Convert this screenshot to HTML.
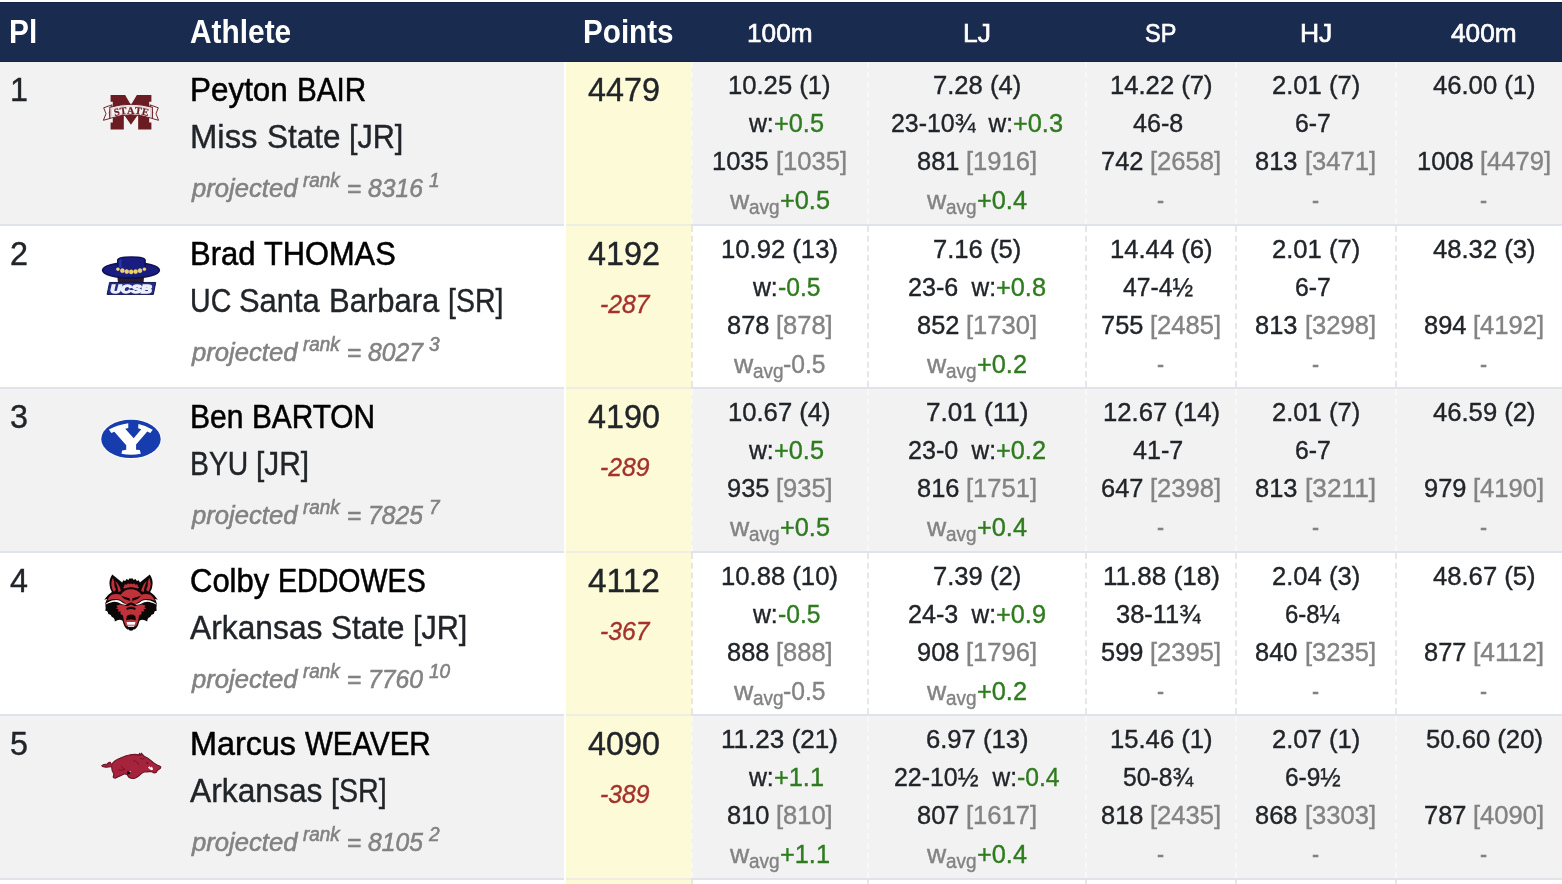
<!DOCTYPE html>
<html lang="en"><head><meta charset="utf-8"><title>Decathlon results</title>
<style>
html,body{margin:0;padding:0;background:#fff}
body{width:1562px;height:884px;overflow:hidden;position:relative;font-family:"Liberation Sans",sans-serif;color:#212529}
#hd{position:absolute;left:0;top:2px;width:1562px;height:59.5px;background:#1a2b50;box-shadow:inset 0 1px 0 #16243f,inset 0 -1px 0 #16243f}
.t{z-index:3;position:absolute;white-space:pre;margin:0;transform-origin:0 0;-webkit-text-stroke:0.4px currentColor}
.h{color:#fff}
.b{-webkit-text-stroke:0.9px #fff}
.hb{-webkit-text-stroke:0.65px #fff}
.bb{font-weight:bold;-webkit-text-stroke:0}
.nm{color:#000;-webkit-text-stroke:0.55px #000}
.i{font-style:italic}
.pj{color:#7f7f7f;-webkit-text-stroke:0.55px #7f7f7f}
.m{color:#838383}
.g{color:#2f7b1f}
.d{color:#a5312c}
.row{position:absolute;left:0;width:1562px;height:163.4px}
.row.odd{background:#f2f2f2}
.row.even{background:#fff}
.row .sep{position:absolute;left:0;right:0;bottom:0;height:2px;background:#e0e3e9}
.row .y{position:absolute;left:564px;width:127px;top:0;bottom:0;background:#fdfad7;border-left:2px solid #fff;box-sizing:border-box;z-index:1}
.row.even .y{border-left-color:#fff}
.row .ysep{z-index:2;position:absolute;left:566px;width:125px;bottom:0;height:2px;background:#efeee2}
.db{z-index:2;position:absolute;top:0;bottom:2px;width:0;border-left:2px dashed #e5e7ec}
.row.even .d0{border-left-color:#e8e7dd}
.row.odd .db{border-left-color:#f8f8f8}
.lg{position:absolute}
</style></head>
<body>
<div id="hd"></div><div class="t h bb" style="left:9.40px;top:7.78px;font-size:32.30px;line-height:48.45px;transform:scaleX(0.9240);">Pl</div><div class="t h bb" style="left:190.20px;top:7.78px;font-size:32.30px;line-height:48.45px;transform:scaleX(0.9244);">Athlete</div><div class="t h bb" style="left:582.60px;top:7.78px;font-size:32.30px;line-height:48.45px;transform:scaleX(0.9179);">Points</div><div class="t h hb" style="left:746.92px;top:14.26px;font-size:26.37px;line-height:38.40px;transform:scaleX(0.9940);">100m</div><div class="t h hb" style="left:963.05px;top:14.26px;font-size:26.37px;line-height:38.40px;transform:scaleX(1.0018);">LJ</div><div class="t h hb" style="left:1145.33px;top:14.26px;font-size:26.37px;line-height:38.40px;transform:scaleX(0.8909);">SP</div><div class="t h hb" style="left:1299.51px;top:14.26px;font-size:26.37px;line-height:38.40px;transform:scaleX(1.0046);">HJ</div><div class="t h hb" style="left:1451.22px;top:14.26px;font-size:26.37px;line-height:38.40px;transform:scaleX(0.9940);">400m</div><div class="row odd" style="top:62px;height:164px"><i class="y"></i><i class="sep"></i><i class="ysep"></i><i class="db d0" style="left:691.0px"></i><i class="db" style="left:867.0px"></i><i class="db" style="left:1085.0px"></i><i class="db" style="left:1235.0px"></i><i class="db" style="left:1395.0px"></i><svg class="lg" style="left:90.0px;top:18.00px" width="80" height="65" viewBox="0 0 1088 884"><path fill="#6a1c22" d="M280 205H478L557 340 637 205H835V297H805V578H835V672H655V470L557 607 460 470V672H280V578H310V297H280Z"/><path fill="#f7f3f3" stroke="#6a1c22" stroke-width="13" stroke-linejoin="miter" d="M300 338L186 378 218 458 182 548 275 522 262 440Z"/><path fill="#f7f3f3" stroke="#6a1c22" stroke-width="13" stroke-linejoin="miter" d="M815 338L929 378 897 458 933 548 840 522 853 440Z"/><path id="bn" fill="#f7f3f3" stroke="#6a1c22" stroke-width="14" d="M270 372Q557 285 848 372L848 522Q557 425 270 522Z"/><path fill="none" stroke="#6a1c22" stroke-width="4" opacity=".55" d="M293 392Q557 312 825 392L825 494Q557 404 293 494Z"/><text font-family="Liberation Serif,serif" font-weight="bold" font-size="140" fill="#6a1c22" stroke="#6a1c22" stroke-width="3" x="333 408 501 602 694" y="483 465 453 452 463" rotate="-13.5 -7.5 -0.5 6.5 13.0" transform="translate(3 8)">STATE</text></svg><div class="t " style="left:10.20px;top:3.87px;font-size:32.96px;line-height:48.00px;transform:scaleX(0.9802);">1</div><div class="t nm" style="left:190.00px;top:3.87px;font-size:32.96px;line-height:48.00px;transform:scaleX(0.9534);">Peyton </div><div class="t nm" style="left:296.56px;top:3.87px;font-size:32.96px;line-height:48.00px;transform:scaleX(0.8996);">BAIR</div><div class="t " style="left:190.00px;top:51.37px;font-size:32.96px;line-height:48.00px;transform:scaleX(0.9965);">Miss </div><div class="t " style="left:266.62px;top:51.37px;font-size:32.96px;line-height:48.00px;transform:scaleX(0.9542);">State </div><div class="t " style="left:348.80px;top:51.37px;font-size:32.96px;line-height:48.00px;transform:scaleX(0.9271);">[JR]</div><div class="t m i pj" style="left:191.60px;top:106.66px;font-size:26.37px;line-height:38.40px;transform:scaleX(0.9722);">projected</div><div class="t m i pj" style="left:297.06px;top:106.66px;font-size:26.37px;line-height:38.40px;transform:scaleX(0.8521);"> </div><div class="t m i pj" style="left:303.30px;top:104.14px;font-size:19.78px;line-height:28.80px;transform:scaleX(0.9541);">rank</div><div class="t m i pj" style="left:340.01px;top:106.66px;font-size:26.37px;line-height:38.40px;transform:scaleX(0.9352);"> = 8316</div><div class="t m i pj" style="left:422.97px;top:106.66px;font-size:26.37px;line-height:38.40px;transform:scaleX(0.8521);"> </div><div class="t m i pj" style="left:429.21px;top:104.14px;font-size:19.78px;line-height:28.80px;transform:scaleX(0.9655);">1</div><div class="t " style="left:587.96px;top:3.57px;font-size:32.96px;line-height:48.00px;transform:scaleX(0.9802);">4479</div><div class="t " style="left:728.40px;top:3.96px;font-size:26.37px;line-height:38.40px;transform:scaleX(0.9722);">10.25 (1)</div><div class="t " style="left:742.11px;top:41.96px;font-size:26.37px;line-height:38.40px;transform:scaleX(0.9431);"> w:</div><div class="t g" style="left:773.89px;top:41.96px;font-size:26.37px;line-height:38.40px;transform:scaleX(0.9605);">+0.5</div><div class="t " style="left:712.24px;top:79.96px;font-size:26.37px;line-height:38.40px;transform:scaleX(0.9675);">1035 </div><div class="t m" style="left:776.08px;top:79.96px;font-size:26.37px;line-height:38.40px;transform:scaleX(0.9695);">[1035]</div><div class="t m" style="left:729.82px;top:118.96px;font-size:26.37px;line-height:38.40px;transform:scaleX(1.0103);">w</div><div class="t m" style="left:749.06px;top:131.04px;font-size:19.78px;line-height:28.80px;transform:scaleX(0.9570);">avg</div><div class="t g" style="left:779.58px;top:118.96px;font-size:26.37px;line-height:38.40px;transform:scaleX(0.9605);">+0.5</div><div class="t " style="left:932.89px;top:3.96px;font-size:26.37px;line-height:38.40px;transform:scaleX(0.9709);">7.28 (4)</div><div class="t " style="left:890.71px;top:41.96px;font-size:26.37px;line-height:38.40px;transform:scaleX(0.9446);">23-10¾</div><div class="t " style="left:975.18px;top:41.96px;font-size:26.37px;line-height:38.40px;transform:scaleX(0.9291);">  w:</div><div class="t g" style="left:1013.29px;top:41.96px;font-size:26.37px;line-height:38.40px;transform:scaleX(0.9605);">+0.3</div><div class="t " style="left:916.73px;top:79.96px;font-size:26.37px;line-height:38.40px;transform:scaleX(0.9638);">881 </div><div class="t m" style="left:966.19px;top:79.96px;font-size:26.37px;line-height:38.40px;transform:scaleX(0.9695);">[1916]</div><div class="t m" style="left:927.12px;top:118.96px;font-size:26.37px;line-height:38.40px;transform:scaleX(1.0103);">w</div><div class="t m" style="left:946.36px;top:131.04px;font-size:19.78px;line-height:28.80px;transform:scaleX(0.9570);">avg</div><div class="t g" style="left:976.88px;top:118.96px;font-size:26.37px;line-height:38.40px;transform:scaleX(0.9605);">+0.4</div><div class="t " style="left:1109.70px;top:3.96px;font-size:26.37px;line-height:38.40px;transform:scaleX(0.9722);">14.22 (7)</div><div class="t " style="left:1132.74px;top:41.96px;font-size:26.37px;line-height:38.40px;transform:scaleX(0.9510);">46-8</div><div class="t " style="left:1182.92px;top:41.96px;font-size:26.37px;line-height:38.40px;transform:scaleX(0.8651);"> </div><div class="t " style="left:1100.73px;top:79.96px;font-size:26.37px;line-height:38.40px;transform:scaleX(0.9638);">742 </div><div class="t m" style="left:1150.19px;top:79.96px;font-size:26.37px;line-height:38.40px;transform:scaleX(0.9695);">[2658]</div><div class="t m" style="left:1157.47px;top:118.96px;font-size:26.37px;line-height:38.40px;transform:scaleX(0.8043);">-</div><div class="t " style="left:1271.59px;top:3.96px;font-size:26.37px;line-height:38.40px;transform:scaleX(0.9709);">2.01 (7)</div><div class="t " style="left:1294.62px;top:41.96px;font-size:26.37px;line-height:38.40px;transform:scaleX(0.9397);">6-7</div><div class="t " style="left:1330.44px;top:41.96px;font-size:26.37px;line-height:38.40px;transform:scaleX(0.8651);"> </div><div class="t " style="left:1255.43px;top:79.96px;font-size:26.37px;line-height:38.40px;transform:scaleX(0.9638);">813 </div><div class="t m" style="left:1304.89px;top:79.96px;font-size:26.37px;line-height:38.40px;transform:scaleX(0.9695);">[3471]</div><div class="t m" style="left:1312.17px;top:118.96px;font-size:26.37px;line-height:38.40px;transform:scaleX(0.8043);">-</div><div class="t " style="left:1432.70px;top:3.96px;font-size:26.37px;line-height:38.40px;transform:scaleX(0.9722);">46.00 (1)</div><div class="t " style="left:1416.54px;top:79.96px;font-size:26.37px;line-height:38.40px;transform:scaleX(0.9675);">1008 </div><div class="t m" style="left:1480.38px;top:79.96px;font-size:26.37px;line-height:38.40px;transform:scaleX(0.9695);">[4479]</div><div class="t m" style="left:1480.47px;top:118.96px;font-size:26.37px;line-height:38.40px;transform:scaleX(0.8043);">-</div></div><div class="row even" style="top:226px;height:163px"><i class="y"></i><i class="sep"></i><i class="ysep"></i><i class="db d0" style="left:691.0px"></i><i class="db" style="left:867.0px"></i><i class="db" style="left:1085.0px"></i><i class="db" style="left:1235.0px"></i><i class="db" style="left:1395.0px"></i><svg class="lg" style="left:95.0px;top:19.00px" width="75" height="60" viewBox="0 0 1105 884"><path fill="#2a1e28" d="M325 440H725L715 560H340Z"/><ellipse cx="530" cy="372" rx="418" ry="113" fill="#1a1d80" stroke="#0f1254" stroke-width="24"/><path fill="#1a1d80" stroke="#0f1254" stroke-width="22" d="M335 350V225Q335 178 535 178 738 178 738 225V350Q535 440 335 350Z"/><path fill="#2b3cc0" d="M352 240Q352 215 390 205V340L352 325Z" opacity=".8"/><circle cx="338" cy="356" r="22" fill="#f0d258" stroke="#f8ecb0" stroke-width="6"/><circle cx="403" cy="378" r="30" fill="#f0d258" stroke="#f8ecb0" stroke-width="6"/><circle cx="468" cy="392" r="30" fill="#f0d258" stroke="#f8ecb0" stroke-width="6"/><circle cx="533" cy="396" r="30" fill="#f0d258" stroke="#f8ecb0" stroke-width="6"/><circle cx="598" cy="392" r="30" fill="#f0d258" stroke="#f8ecb0" stroke-width="6"/><circle cx="663" cy="378" r="30" fill="#f0d258" stroke="#f8ecb0" stroke-width="6"/><circle cx="728" cy="356" r="22" fill="#f0d258" stroke="#f8ecb0" stroke-width="6"/><path fill="#202c8e" stroke="#0f1254" stroke-width="14" stroke-linejoin="round" d="M215 552H895L860 728H178Z"/><text x="228" y="703" font-family="Liberation Sans,sans-serif" font-weight="bold" font-style="italic" font-size="172" fill="#eceff7" stroke="#eceff7" stroke-width="22" textLength="610" lengthAdjust="spacingAndGlyphs">UCSB</text></svg><div class="t " style="left:10.20px;top:3.87px;font-size:32.96px;line-height:48.00px;transform:scaleX(0.9802);">2</div><div class="t nm" style="left:190.00px;top:3.87px;font-size:32.96px;line-height:48.00px;transform:scaleX(0.9409);">Brad </div><div class="t nm" style="left:264.12px;top:3.87px;font-size:32.96px;line-height:48.00px;transform:scaleX(0.9341);">THOMAS</div><div class="t " style="left:190.00px;top:51.37px;font-size:32.96px;line-height:48.00px;transform:scaleX(0.8671);">UC </div><div class="t " style="left:239.22px;top:51.37px;font-size:32.96px;line-height:48.00px;transform:scaleX(0.9373);">Santa </div><div class="t " style="left:328.53px;top:51.37px;font-size:32.96px;line-height:48.00px;transform:scaleX(0.9412);">Barbara </div><div class="t " style="left:447.52px;top:51.37px;font-size:32.96px;line-height:48.00px;transform:scaleX(0.8633);">[SR]</div><div class="t m i pj" style="left:191.60px;top:106.66px;font-size:26.37px;line-height:38.40px;transform:scaleX(0.9722);">projected</div><div class="t m i pj" style="left:297.06px;top:106.66px;font-size:26.37px;line-height:38.40px;transform:scaleX(0.8521);"> </div><div class="t m i pj" style="left:303.30px;top:104.14px;font-size:19.78px;line-height:28.80px;transform:scaleX(0.9541);">rank</div><div class="t m i pj" style="left:340.01px;top:106.66px;font-size:26.37px;line-height:38.40px;transform:scaleX(0.9352);"> = 8027</div><div class="t m i pj" style="left:422.97px;top:106.66px;font-size:26.37px;line-height:38.40px;transform:scaleX(0.8521);"> </div><div class="t m i pj" style="left:429.21px;top:104.14px;font-size:19.78px;line-height:28.80px;transform:scaleX(0.9655);">3</div><div class="t " style="left:587.96px;top:3.57px;font-size:32.96px;line-height:48.00px;transform:scaleX(0.9802);">4192</div><div class="t d i" style="left:599.98px;top:59.26px;font-size:26.37px;line-height:38.40px;transform:scaleX(0.9367);">-287</div><div class="t " style="left:721.21px;top:3.96px;font-size:26.37px;line-height:38.40px;transform:scaleX(0.9732);">10.92 (13)</div><div class="t " style="left:745.84px;top:41.96px;font-size:26.37px;line-height:38.40px;transform:scaleX(0.9431);"> w:</div><div class="t g" style="left:777.61px;top:41.96px;font-size:26.37px;line-height:38.40px;transform:scaleX(0.9365);">-0.5</div><div class="t " style="left:726.62px;top:79.96px;font-size:26.37px;line-height:38.40px;transform:scaleX(0.9638);">878 </div><div class="t m" style="left:776.08px;top:79.96px;font-size:26.37px;line-height:38.40px;transform:scaleX(0.9668);">[878]</div><div class="t m" style="left:733.55px;top:118.96px;font-size:26.37px;line-height:38.40px;transform:scaleX(1.0103);">w</div><div class="t m" style="left:752.79px;top:131.04px;font-size:19.78px;line-height:28.80px;transform:scaleX(0.9570);">avg</div><div class="t m" style="left:783.30px;top:118.96px;font-size:26.37px;line-height:38.40px;transform:scaleX(0.9365);">-0.5</div><div class="t " style="left:932.89px;top:3.96px;font-size:26.37px;line-height:38.40px;transform:scaleX(0.9709);">7.16 (5)</div><div class="t " style="left:907.85px;top:41.96px;font-size:26.37px;line-height:38.40px;transform:scaleX(0.9510);">23-6</div><div class="t " style="left:958.04px;top:41.96px;font-size:26.37px;line-height:38.40px;transform:scaleX(0.9291);">  w:</div><div class="t g" style="left:996.15px;top:41.96px;font-size:26.37px;line-height:38.40px;transform:scaleX(0.9605);">+0.8</div><div class="t " style="left:916.73px;top:79.96px;font-size:26.37px;line-height:38.40px;transform:scaleX(0.9638);">852 </div><div class="t m" style="left:966.19px;top:79.96px;font-size:26.37px;line-height:38.40px;transform:scaleX(0.9695);">[1730]</div><div class="t m" style="left:927.12px;top:118.96px;font-size:26.37px;line-height:38.40px;transform:scaleX(1.0103);">w</div><div class="t m" style="left:946.36px;top:131.04px;font-size:19.78px;line-height:28.80px;transform:scaleX(0.9570);">avg</div><div class="t g" style="left:976.88px;top:118.96px;font-size:26.37px;line-height:38.40px;transform:scaleX(0.9605);">+0.2</div><div class="t " style="left:1109.70px;top:3.96px;font-size:26.37px;line-height:38.40px;transform:scaleX(0.9722);">14.44 (6)</div><div class="t " style="left:1122.81px;top:41.96px;font-size:26.37px;line-height:38.40px;transform:scaleX(0.9369);">47-4½</div><div class="t " style="left:1192.86px;top:41.96px;font-size:26.37px;line-height:38.40px;transform:scaleX(0.8651);"> </div><div class="t " style="left:1100.73px;top:79.96px;font-size:26.37px;line-height:38.40px;transform:scaleX(0.9638);">755 </div><div class="t m" style="left:1150.19px;top:79.96px;font-size:26.37px;line-height:38.40px;transform:scaleX(0.9695);">[2485]</div><div class="t m" style="left:1157.47px;top:118.96px;font-size:26.37px;line-height:38.40px;transform:scaleX(0.8043);">-</div><div class="t " style="left:1271.59px;top:3.96px;font-size:26.37px;line-height:38.40px;transform:scaleX(0.9709);">2.01 (7)</div><div class="t " style="left:1294.62px;top:41.96px;font-size:26.37px;line-height:38.40px;transform:scaleX(0.9397);">6-7</div><div class="t " style="left:1330.44px;top:41.96px;font-size:26.37px;line-height:38.40px;transform:scaleX(0.8651);"> </div><div class="t " style="left:1255.43px;top:79.96px;font-size:26.37px;line-height:38.40px;transform:scaleX(0.9638);">813 </div><div class="t m" style="left:1304.89px;top:79.96px;font-size:26.37px;line-height:38.40px;transform:scaleX(0.9695);">[3298]</div><div class="t m" style="left:1312.17px;top:118.96px;font-size:26.37px;line-height:38.40px;transform:scaleX(0.8043);">-</div><div class="t " style="left:1432.70px;top:3.96px;font-size:26.37px;line-height:38.40px;transform:scaleX(0.9722);">48.32 (3)</div><div class="t " style="left:1423.73px;top:79.96px;font-size:26.37px;line-height:38.40px;transform:scaleX(0.9638);">894 </div><div class="t m" style="left:1473.19px;top:79.96px;font-size:26.37px;line-height:38.40px;transform:scaleX(0.9695);">[4192]</div><div class="t m" style="left:1480.47px;top:118.96px;font-size:26.37px;line-height:38.40px;transform:scaleX(0.8043);">-</div></div><div class="row odd" style="top:389px;height:164px"><i class="y"></i><i class="sep"></i><i class="ysep"></i><i class="db d0" style="left:691.0px"></i><i class="db" style="left:867.0px"></i><i class="db" style="left:1085.0px"></i><i class="db" style="left:1235.0px"></i><i class="db" style="left:1395.0px"></i><svg class="lg" style="left:95.0px;top:21.00px" width="75" height="60" viewBox="0 0 1105 884"><ellipse cx="530" cy="427" rx="452" ry="295" fill="#fbfbfd"/><ellipse cx="530" cy="427" rx="438" ry="282" fill="#173cae"/><path fill="#fff" d="M205 288Q340 215 490 195V265L445 275 570 415 682 282 635 268 640 205Q760 230 850 290L815 340 770 315 605 510V585L660 590 675 645Q530 675 390 645L400 595 460 585V520L285 320 240 340Z"/></svg><div class="t " style="left:10.20px;top:3.87px;font-size:32.96px;line-height:48.00px;transform:scaleX(0.9802);">3</div><div class="t nm" style="left:190.00px;top:3.87px;font-size:32.96px;line-height:48.00px;transform:scaleX(0.9112);">Ben </div><div class="t nm" style="left:251.78px;top:3.87px;font-size:32.96px;line-height:48.00px;transform:scaleX(0.9039);">BARTON</div><div class="t " style="left:190.00px;top:51.37px;font-size:32.96px;line-height:48.00px;transform:scaleX(0.8598);">BYU </div><div class="t " style="left:256.15px;top:51.37px;font-size:32.96px;line-height:48.00px;transform:scaleX(0.9044);">[JR]</div><div class="t m i pj" style="left:191.60px;top:106.66px;font-size:26.37px;line-height:38.40px;transform:scaleX(0.9722);">projected</div><div class="t m i pj" style="left:297.06px;top:106.66px;font-size:26.37px;line-height:38.40px;transform:scaleX(0.8521);"> </div><div class="t m i pj" style="left:303.30px;top:104.14px;font-size:19.78px;line-height:28.80px;transform:scaleX(0.9541);">rank</div><div class="t m i pj" style="left:340.01px;top:106.66px;font-size:26.37px;line-height:38.40px;transform:scaleX(0.9352);"> = 7825</div><div class="t m i pj" style="left:422.97px;top:106.66px;font-size:26.37px;line-height:38.40px;transform:scaleX(0.8521);"> </div><div class="t m i pj" style="left:429.21px;top:104.14px;font-size:19.78px;line-height:28.80px;transform:scaleX(0.9655);">7</div><div class="t " style="left:587.96px;top:3.57px;font-size:32.96px;line-height:48.00px;transform:scaleX(0.9802);">4190</div><div class="t d i" style="left:599.98px;top:59.26px;font-size:26.37px;line-height:38.40px;transform:scaleX(0.9367);">-289</div><div class="t " style="left:728.40px;top:3.96px;font-size:26.37px;line-height:38.40px;transform:scaleX(0.9722);">10.67 (4)</div><div class="t " style="left:742.11px;top:41.96px;font-size:26.37px;line-height:38.40px;transform:scaleX(0.9431);"> w:</div><div class="t g" style="left:773.89px;top:41.96px;font-size:26.37px;line-height:38.40px;transform:scaleX(0.9605);">+0.5</div><div class="t " style="left:726.62px;top:79.96px;font-size:26.37px;line-height:38.40px;transform:scaleX(0.9638);">935 </div><div class="t m" style="left:776.08px;top:79.96px;font-size:26.37px;line-height:38.40px;transform:scaleX(0.9668);">[935]</div><div class="t m" style="left:729.82px;top:118.96px;font-size:26.37px;line-height:38.40px;transform:scaleX(1.0103);">w</div><div class="t m" style="left:749.06px;top:131.04px;font-size:19.78px;line-height:28.80px;transform:scaleX(0.9570);">avg</div><div class="t g" style="left:779.58px;top:118.96px;font-size:26.37px;line-height:38.40px;transform:scaleX(0.9605);">+0.5</div><div class="t " style="left:925.70px;top:3.96px;font-size:26.37px;line-height:38.40px;transform:scaleX(0.9905);">7.01 (11)</div><div class="t " style="left:907.85px;top:41.96px;font-size:26.37px;line-height:38.40px;transform:scaleX(0.9510);">23-0</div><div class="t " style="left:958.04px;top:41.96px;font-size:26.37px;line-height:38.40px;transform:scaleX(0.9291);">  w:</div><div class="t g" style="left:996.15px;top:41.96px;font-size:26.37px;line-height:38.40px;transform:scaleX(0.9605);">+0.2</div><div class="t " style="left:916.73px;top:79.96px;font-size:26.37px;line-height:38.40px;transform:scaleX(0.9638);">816 </div><div class="t m" style="left:966.19px;top:79.96px;font-size:26.37px;line-height:38.40px;transform:scaleX(0.9695);">[1751]</div><div class="t m" style="left:927.12px;top:118.96px;font-size:26.37px;line-height:38.40px;transform:scaleX(1.0103);">w</div><div class="t m" style="left:946.36px;top:131.04px;font-size:19.78px;line-height:28.80px;transform:scaleX(0.9570);">avg</div><div class="t g" style="left:976.88px;top:118.96px;font-size:26.37px;line-height:38.40px;transform:scaleX(0.9605);">+0.4</div><div class="t " style="left:1102.51px;top:3.96px;font-size:26.37px;line-height:38.40px;transform:scaleX(0.9732);">12.67 (14)</div><div class="t " style="left:1132.74px;top:41.96px;font-size:26.37px;line-height:38.40px;transform:scaleX(0.9510);">41-7</div><div class="t " style="left:1182.92px;top:41.96px;font-size:26.37px;line-height:38.40px;transform:scaleX(0.8651);"> </div><div class="t " style="left:1100.73px;top:79.96px;font-size:26.37px;line-height:38.40px;transform:scaleX(0.9638);">647 </div><div class="t m" style="left:1150.19px;top:79.96px;font-size:26.37px;line-height:38.40px;transform:scaleX(0.9695);">[2398]</div><div class="t m" style="left:1157.47px;top:118.96px;font-size:26.37px;line-height:38.40px;transform:scaleX(0.8043);">-</div><div class="t " style="left:1271.59px;top:3.96px;font-size:26.37px;line-height:38.40px;transform:scaleX(0.9709);">2.01 (7)</div><div class="t " style="left:1294.62px;top:41.96px;font-size:26.37px;line-height:38.40px;transform:scaleX(0.9397);">6-7</div><div class="t " style="left:1330.44px;top:41.96px;font-size:26.37px;line-height:38.40px;transform:scaleX(0.8651);"> </div><div class="t " style="left:1255.43px;top:79.96px;font-size:26.37px;line-height:38.40px;transform:scaleX(0.9638);">813 </div><div class="t m" style="left:1304.89px;top:79.96px;font-size:26.37px;line-height:38.40px;transform:scaleX(0.9961);">[3211]</div><div class="t m" style="left:1312.17px;top:118.96px;font-size:26.37px;line-height:38.40px;transform:scaleX(0.8043);">-</div><div class="t " style="left:1432.70px;top:3.96px;font-size:26.37px;line-height:38.40px;transform:scaleX(0.9722);">46.59 (2)</div><div class="t " style="left:1423.73px;top:79.96px;font-size:26.37px;line-height:38.40px;transform:scaleX(0.9638);">979 </div><div class="t m" style="left:1473.19px;top:79.96px;font-size:26.37px;line-height:38.40px;transform:scaleX(0.9695);">[4190]</div><div class="t m" style="left:1480.47px;top:118.96px;font-size:26.37px;line-height:38.40px;transform:scaleX(0.8043);">-</div></div><div class="row even" style="top:553px;height:163px"><i class="y"></i><i class="sep"></i><i class="ysep"></i><i class="db d0" style="left:691.0px"></i><i class="db" style="left:867.0px"></i><i class="db" style="left:1085.0px"></i><i class="db" style="left:1235.0px"></i><i class="db" style="left:1395.0px"></i><svg class="lg" style="left:95.0px;top:17.00px" width="75" height="65" viewBox="0 0 1020 884"><path fill="#0c0808" d="M493 120L470 112 455 135 430 122 410 150 385 140 370 170 235 60Q185 130 200 215 205 265 230 300 165 340 125 405 150 400 165 395 135 450 140 470 150 520 140 555 175 550 180 600 215 600 230 640 265 645 270 700 330 660 375 690 400 780 420 790 435 815 455 805 470 835 493 820Z"/><path fill="#0c0808" d="M493 120L470 112 455 135 430 122 410 150 385 140 370 170 235 60Q185 130 200 215 205 265 230 300 165 340 125 405 150 400 165 395 135 450 140 470 150 520 140 555 175 550 180 600 215 600 230 640 265 645 270 700 330 660 375 690 400 780 420 790 435 815 455 805 470 835 493 820Z" transform="translate(980 0) scale(-1 1)"/><path fill="#c0313a" d="M245 105Q212 160 228 235 238 278 258 296L285 268Q255 215 262 160 250 135 245 105Z M275 150Q330 190 352 285L318 300Q312 230 275 150Z"/><path fill="#c0313a" d="M245 105Q212 160 228 235 238 278 258 296L285 268Q255 215 262 160 250 135 245 105Z M275 150Q330 190 352 285L318 300Q312 230 275 150Z" transform="translate(980 0) scale(-1 1)"/><path fill="#c0313a" d="M493 185L465 195 450 180 430 200 405 195 395 225 380 235 400 250 440 240 493 232Z M493 262Q400 262 350 335 285 318 225 338 182 368 165 418 250 380 330 402 400 440 432 468 448 450 493 440Z"/><path fill="#c0313a" d="M493 185L465 195 450 180 430 200 405 195 395 225 380 235 400 250 440 240 493 232Z M493 262Q400 262 350 335 285 318 225 338 182 368 165 418 250 380 330 402 400 440 432 468 448 450 493 440Z" transform="translate(980 0) scale(-1 1)"/><path fill="#fff" d="M138 472Q160 438 230 415 300 396 345 420 390 462 432 468 400 482 352 458 300 424 240 434 175 452 138 472Z"/><path fill="#fff" d="M138 472Q160 438 230 415 300 396 345 420 390 462 432 468 400 482 352 458 300 424 240 434 175 452 138 472Z" transform="translate(980 0) scale(-1 1)"/><path fill="#c0313a" d="M493 470L440 493 395 480 340 470 290 485 310 505 285 525 320 535 310 565 350 565 345 600 380 620 395 700 420 760 493 775Z"/><path fill="#c0313a" d="M493 470L440 493 395 480 340 470 290 485 310 505 285 525 320 535 310 565 350 565 345 600 380 620 395 700 420 760 493 775Z" transform="translate(980 0) scale(-1 1)"/><path fill="#0c0808" d="M350 350L470 385 478 420 400 395Z M630 350L510 385 502 420 580 395Z"/><path fill="#0c0808" d="M425 520Q490 480 555 520L545 545Q490 515 435 545Z"/><path fill="#0c0808" d="M432 625Q490 585 548 625L556 685Q490 660 424 685Z"/><path fill="#fff" d="M430 708L550 708 542 745 438 745Z"/><path fill="#d8d8d8" d="M440 755H540L530 775H450Z"/></svg><div class="t " style="left:10.20px;top:3.87px;font-size:32.96px;line-height:48.00px;transform:scaleX(0.9802);">4</div><div class="t nm" style="left:190.00px;top:3.87px;font-size:32.96px;line-height:48.00px;transform:scaleX(0.9404);">Colby </div><div class="t nm" style="left:277.86px;top:3.87px;font-size:32.96px;line-height:48.00px;transform:scaleX(0.8674);">EDDOWES</div><div class="t " style="left:190.00px;top:51.37px;font-size:32.96px;line-height:48.00px;transform:scaleX(0.9643);">Arkansas </div><div class="t " style="left:331.31px;top:51.37px;font-size:32.96px;line-height:48.00px;transform:scaleX(0.9542);">State </div><div class="t " style="left:413.48px;top:51.37px;font-size:32.96px;line-height:48.00px;transform:scaleX(0.9271);">[JR]</div><div class="t m i pj" style="left:191.60px;top:106.66px;font-size:26.37px;line-height:38.40px;transform:scaleX(0.9722);">projected</div><div class="t m i pj" style="left:297.06px;top:106.66px;font-size:26.37px;line-height:38.40px;transform:scaleX(0.8521);"> </div><div class="t m i pj" style="left:303.30px;top:104.14px;font-size:19.78px;line-height:28.80px;transform:scaleX(0.9541);">rank</div><div class="t m i pj" style="left:340.01px;top:106.66px;font-size:26.37px;line-height:38.40px;transform:scaleX(0.9352);"> = 7760</div><div class="t m i pj" style="left:422.97px;top:106.66px;font-size:26.37px;line-height:38.40px;transform:scaleX(0.8521);"> </div><div class="t m i pj" style="left:429.21px;top:104.14px;font-size:19.78px;line-height:28.80px;transform:scaleX(0.9655);">10</div><div class="t " style="left:587.96px;top:3.57px;font-size:32.96px;line-height:48.00px;transform:scaleX(1.0141);">4112</div><div class="t d i" style="left:599.98px;top:59.26px;font-size:26.37px;line-height:38.40px;transform:scaleX(0.9367);">-367</div><div class="t " style="left:721.21px;top:3.96px;font-size:26.37px;line-height:38.40px;transform:scaleX(0.9732);">10.88 (10)</div><div class="t " style="left:745.84px;top:41.96px;font-size:26.37px;line-height:38.40px;transform:scaleX(0.9431);"> w:</div><div class="t g" style="left:777.61px;top:41.96px;font-size:26.37px;line-height:38.40px;transform:scaleX(0.9365);">-0.5</div><div class="t " style="left:726.62px;top:79.96px;font-size:26.37px;line-height:38.40px;transform:scaleX(0.9638);">888 </div><div class="t m" style="left:776.08px;top:79.96px;font-size:26.37px;line-height:38.40px;transform:scaleX(0.9668);">[888]</div><div class="t m" style="left:733.55px;top:118.96px;font-size:26.37px;line-height:38.40px;transform:scaleX(1.0103);">w</div><div class="t m" style="left:752.79px;top:131.04px;font-size:19.78px;line-height:28.80px;transform:scaleX(0.9570);">avg</div><div class="t m" style="left:783.30px;top:118.96px;font-size:26.37px;line-height:38.40px;transform:scaleX(0.9365);">-0.5</div><div class="t " style="left:932.89px;top:3.96px;font-size:26.37px;line-height:38.40px;transform:scaleX(0.9709);">7.39 (2)</div><div class="t " style="left:907.85px;top:41.96px;font-size:26.37px;line-height:38.40px;transform:scaleX(0.9510);">24-3</div><div class="t " style="left:958.04px;top:41.96px;font-size:26.37px;line-height:38.40px;transform:scaleX(0.9291);">  w:</div><div class="t g" style="left:996.15px;top:41.96px;font-size:26.37px;line-height:38.40px;transform:scaleX(0.9605);">+0.9</div><div class="t " style="left:916.73px;top:79.96px;font-size:26.37px;line-height:38.40px;transform:scaleX(0.9638);">908 </div><div class="t m" style="left:966.19px;top:79.96px;font-size:26.37px;line-height:38.40px;transform:scaleX(0.9695);">[1796]</div><div class="t m" style="left:927.12px;top:118.96px;font-size:26.37px;line-height:38.40px;transform:scaleX(1.0103);">w</div><div class="t m" style="left:946.36px;top:131.04px;font-size:19.78px;line-height:28.80px;transform:scaleX(0.9570);">avg</div><div class="t g" style="left:976.88px;top:118.96px;font-size:26.37px;line-height:38.40px;transform:scaleX(0.9605);">+0.2</div><div class="t " style="left:1102.51px;top:3.96px;font-size:26.37px;line-height:38.40px;transform:scaleX(0.9893);">11.88 (18)</div><div class="t " style="left:1115.59px;top:41.96px;font-size:26.37px;line-height:38.40px;transform:scaleX(0.9657);">38-11¾</div><div class="t " style="left:1200.07px;top:41.96px;font-size:26.37px;line-height:38.40px;transform:scaleX(0.8651);"> </div><div class="t " style="left:1100.73px;top:79.96px;font-size:26.37px;line-height:38.40px;transform:scaleX(0.9638);">599 </div><div class="t m" style="left:1150.19px;top:79.96px;font-size:26.37px;line-height:38.40px;transform:scaleX(0.9695);">[2395]</div><div class="t m" style="left:1157.47px;top:118.96px;font-size:26.37px;line-height:38.40px;transform:scaleX(0.8043);">-</div><div class="t " style="left:1271.59px;top:3.96px;font-size:26.37px;line-height:38.40px;transform:scaleX(0.9709);">2.04 (3)</div><div class="t " style="left:1285.25px;top:41.96px;font-size:26.37px;line-height:38.40px;transform:scaleX(0.9078);">6-8¼</div><div class="t " style="left:1339.81px;top:41.96px;font-size:26.37px;line-height:38.40px;transform:scaleX(0.8651);"> </div><div class="t " style="left:1255.43px;top:79.96px;font-size:26.37px;line-height:38.40px;transform:scaleX(0.9638);">840 </div><div class="t m" style="left:1304.89px;top:79.96px;font-size:26.37px;line-height:38.40px;transform:scaleX(0.9695);">[3235]</div><div class="t m" style="left:1312.17px;top:118.96px;font-size:26.37px;line-height:38.40px;transform:scaleX(0.8043);">-</div><div class="t " style="left:1432.70px;top:3.96px;font-size:26.37px;line-height:38.40px;transform:scaleX(0.9722);">48.67 (5)</div><div class="t " style="left:1423.73px;top:79.96px;font-size:26.37px;line-height:38.40px;transform:scaleX(0.9638);">877 </div><div class="t m" style="left:1473.19px;top:79.96px;font-size:26.37px;line-height:38.40px;transform:scaleX(0.9961);">[4112]</div><div class="t m" style="left:1480.47px;top:118.96px;font-size:26.37px;line-height:38.40px;transform:scaleX(0.8043);">-</div></div><div class="row odd" style="top:716px;height:164px"><i class="y"></i><i class="sep"></i><i class="ysep"></i><i class="db d0" style="left:691.0px"></i><i class="db" style="left:867.0px"></i><i class="db" style="left:1085.0px"></i><i class="db" style="left:1235.0px"></i><i class="db" style="left:1395.0px"></i><svg class="lg" style="left:95.0px;top:24.00px" width="75" height="55" viewBox="0 0 1205 884"><path fill="#a5233b" stroke="#6c1428" stroke-width="18" stroke-linejoin="round" d="M108 412Q150 385 195 392 215 355 245 360 250 385 272 395 285 340 400 292 500 245 600 232 660 222 705 240L715 215 735 250 745 212 790 262Q850 290 905 335 950 375 1005 405 1040 415 1058 432L1050 455 1000 490 985 520 950 530 905 505Q850 515 800 510 760 525 735 550 700 590 640 615 590 628 545 600L520 560Q490 540 470 545 400 575 330 612 300 615 292 595 305 560 300 540 262 490 270 425 200 440 150 435 115 432 108 412Z"/><path fill="none" stroke="#6c1428" stroke-width="14" stroke-linecap="round" d="M620 335Q690 345 700 395M380 480Q440 500 480 470M420 420Q450 440 470 470M730 300Q760 310 790 300M560 240Q640 225 705 245"/><path fill="#1a1014" d="M520 500L585 505 560 545 515 560Z"/><path fill="#d8d0d4" d="M540 500L585 505 575 522Z"/><path fill="#fff" d="M850 440L880 420 895 445 915 425 935 475 905 485 875 465Z"/><path fill="#6c1428" d="M825 350L860 365 850 385 820 375Z"/></svg><div class="t " style="left:10.20px;top:3.87px;font-size:32.96px;line-height:48.00px;transform:scaleX(0.9802);">5</div><div class="t nm" style="left:190.00px;top:3.87px;font-size:32.96px;line-height:48.00px;transform:scaleX(0.9810);">Marcus </div><div class="t nm" style="left:304.98px;top:3.87px;font-size:32.96px;line-height:48.00px;transform:scaleX(0.8953);">WEAVER</div><div class="t " style="left:190.00px;top:51.37px;font-size:32.96px;line-height:48.00px;transform:scaleX(0.9643);">Arkansas </div><div class="t " style="left:331.31px;top:51.37px;font-size:32.96px;line-height:48.00px;transform:scaleX(0.8683);">[SR]</div><div class="t m i pj" style="left:191.60px;top:106.66px;font-size:26.37px;line-height:38.40px;transform:scaleX(0.9722);">projected</div><div class="t m i pj" style="left:297.06px;top:106.66px;font-size:26.37px;line-height:38.40px;transform:scaleX(0.8521);"> </div><div class="t m i pj" style="left:303.30px;top:104.14px;font-size:19.78px;line-height:28.80px;transform:scaleX(0.9541);">rank</div><div class="t m i pj" style="left:340.01px;top:106.66px;font-size:26.37px;line-height:38.40px;transform:scaleX(0.9352);"> = 8105</div><div class="t m i pj" style="left:422.97px;top:106.66px;font-size:26.37px;line-height:38.40px;transform:scaleX(0.8521);"> </div><div class="t m i pj" style="left:429.21px;top:104.14px;font-size:19.78px;line-height:28.80px;transform:scaleX(0.9655);">2</div><div class="t " style="left:587.96px;top:3.57px;font-size:32.96px;line-height:48.00px;transform:scaleX(0.9802);">4090</div><div class="t d i" style="left:599.98px;top:59.26px;font-size:26.37px;line-height:38.40px;transform:scaleX(0.9367);">-389</div><div class="t " style="left:721.21px;top:3.96px;font-size:26.37px;line-height:38.40px;transform:scaleX(0.9893);">11.23 (21)</div><div class="t " style="left:742.11px;top:41.96px;font-size:26.37px;line-height:38.40px;transform:scaleX(0.9431);"> w:</div><div class="t g" style="left:773.89px;top:41.96px;font-size:26.37px;line-height:38.40px;transform:scaleX(0.9605);">+1.1</div><div class="t " style="left:726.62px;top:79.96px;font-size:26.37px;line-height:38.40px;transform:scaleX(0.9638);">810 </div><div class="t m" style="left:776.08px;top:79.96px;font-size:26.37px;line-height:38.40px;transform:scaleX(0.9668);">[810]</div><div class="t m" style="left:729.82px;top:118.96px;font-size:26.37px;line-height:38.40px;transform:scaleX(1.0103);">w</div><div class="t m" style="left:749.06px;top:131.04px;font-size:19.78px;line-height:28.80px;transform:scaleX(0.9570);">avg</div><div class="t g" style="left:779.58px;top:118.96px;font-size:26.37px;line-height:38.40px;transform:scaleX(0.9605);">+1.1</div><div class="t " style="left:925.70px;top:3.96px;font-size:26.37px;line-height:38.40px;transform:scaleX(0.9722);">6.97 (13)</div><div class="t " style="left:894.46px;top:41.96px;font-size:26.37px;line-height:38.40px;transform:scaleX(0.9440);">22-10½</div><div class="t " style="left:978.88px;top:41.96px;font-size:26.37px;line-height:38.40px;transform:scaleX(0.9291);">  w:</div><div class="t g" style="left:1016.99px;top:41.96px;font-size:26.37px;line-height:38.40px;transform:scaleX(0.9365);">-0.4</div><div class="t " style="left:916.73px;top:79.96px;font-size:26.37px;line-height:38.40px;transform:scaleX(0.9638);">807 </div><div class="t m" style="left:966.19px;top:79.96px;font-size:26.37px;line-height:38.40px;transform:scaleX(0.9695);">[1617]</div><div class="t m" style="left:927.12px;top:118.96px;font-size:26.37px;line-height:38.40px;transform:scaleX(1.0103);">w</div><div class="t m" style="left:946.36px;top:131.04px;font-size:19.78px;line-height:28.80px;transform:scaleX(0.9570);">avg</div><div class="t g" style="left:976.88px;top:118.96px;font-size:26.37px;line-height:38.40px;transform:scaleX(0.9605);">+0.4</div><div class="t " style="left:1109.70px;top:3.96px;font-size:26.37px;line-height:38.40px;transform:scaleX(0.9722);">15.46 (1)</div><div class="t " style="left:1122.78px;top:41.96px;font-size:26.37px;line-height:38.40px;transform:scaleX(0.9376);">50-8¾</div><div class="t " style="left:1192.88px;top:41.96px;font-size:26.37px;line-height:38.40px;transform:scaleX(0.8651);"> </div><div class="t " style="left:1100.73px;top:79.96px;font-size:26.37px;line-height:38.40px;transform:scaleX(0.9638);">818 </div><div class="t m" style="left:1150.19px;top:79.96px;font-size:26.37px;line-height:38.40px;transform:scaleX(0.9695);">[2435]</div><div class="t m" style="left:1157.47px;top:118.96px;font-size:26.37px;line-height:38.40px;transform:scaleX(0.8043);">-</div><div class="t " style="left:1271.59px;top:3.96px;font-size:26.37px;line-height:38.40px;transform:scaleX(0.9709);">2.07 (1)</div><div class="t " style="left:1284.69px;top:41.96px;font-size:26.37px;line-height:38.40px;transform:scaleX(0.9264);">6-9½</div><div class="t " style="left:1340.37px;top:41.96px;font-size:26.37px;line-height:38.40px;transform:scaleX(0.8651);"> </div><div class="t " style="left:1255.43px;top:79.96px;font-size:26.37px;line-height:38.40px;transform:scaleX(0.9638);">868 </div><div class="t m" style="left:1304.89px;top:79.96px;font-size:26.37px;line-height:38.40px;transform:scaleX(0.9695);">[3303]</div><div class="t m" style="left:1312.17px;top:118.96px;font-size:26.37px;line-height:38.40px;transform:scaleX(0.8043);">-</div><div class="t " style="left:1425.51px;top:3.96px;font-size:26.37px;line-height:38.40px;transform:scaleX(0.9732);">50.60 (20)</div><div class="t " style="left:1423.73px;top:79.96px;font-size:26.37px;line-height:38.40px;transform:scaleX(0.9638);">787 </div><div class="t m" style="left:1473.19px;top:79.96px;font-size:26.37px;line-height:38.40px;transform:scaleX(0.9695);">[4090]</div><div class="t m" style="left:1480.47px;top:118.96px;font-size:26.37px;line-height:38.40px;transform:scaleX(0.8043);">-</div></div><div class="row even" style="top:880px;height:10px"><i class="y"></i><i class="db" style="left:691.0px"></i><i class="db" style="left:867.0px"></i><i class="db" style="left:1085.0px"></i><i class="db" style="left:1235.0px"></i><i class="db" style="left:1395.0px"></i></div>
</body></html>
